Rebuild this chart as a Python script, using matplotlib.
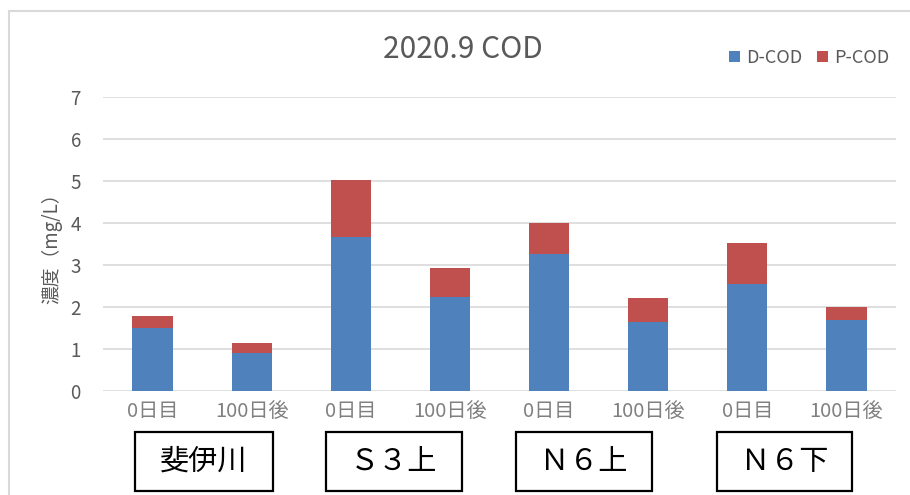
import matplotlib
matplotlib.use("Agg")
import matplotlib.pyplot as plt
from matplotlib.patches import Rectangle
import numpy as np

plt.rcParams['font.family'] = ['Noto Sans CJK JP', 'DejaVu Sans']

categories = ["0日目", "100日後", "0日目", "100日後", "0日目", "100日後", "0日目", "100日後"]
d_cod = [1.51, 0.91, 3.66, 2.25, 3.26, 1.64, 2.55, 1.68]
p_cod = [0.28, 0.23, 1.37, 0.68, 0.75, 0.57, 0.98, 0.33]
site_labels = ["斐伊川", "Ｓ３上", "Ｎ６上", "Ｎ６下"]
title = "2020.9 COD"
ylabel = "濃度（mg/L）"

W, H = 910, 495
fig = plt.figure(figsize=(W / 100, H / 100), dpi=100)
ax = fig.add_axes([103 / W, (H - 391) / H, (896 - 103) / W, (391 - 97) / H])

x = np.arange(len(categories))
blue = "#4F81BD"
red = "#C0504D"
ax.bar(x, d_cod, width=0.405, color=blue, label="D-COD", zorder=3)
ax.bar(x, p_cod, width=0.405, bottom=d_cod, color=red, label="P-COD", zorder=3)

ax.set_xlim(-0.5, len(categories) - 0.5)
ax.set_ylim(0, 7)
ax.set_yticks(range(8))
ax.yaxis.grid(True, color="#D9D9D9", linewidth=1.2, zorder=0)
for s in ax.spines.values():
    s.set_visible(False)
ax.tick_params(axis="both", length=0, colors="#595959")
ax.tick_params(axis="y", pad=16, labelsize=13.5)
ax.tick_params(axis="x", pad=7, labelsize=14.5)
ax.set_xticks(x)
ax.set_xticklabels(categories)
for t in ax.get_xticklabels():
    t.set_color("#808080")
ax.set_ylabel(ylabel, color="#595959", fontsize=13.5, labelpad=6)

fig.text(463 / W, 1 - 50 / H, title, ha="center", va="center", fontsize=21.5,
         color="#595959")

leg = ax.legend(loc="center", bbox_to_anchor=(809 / W, 1 - 58 / H),
                bbox_transform=fig.transFigure, ncol=2, frameon=False,
                fontsize=13, handlelength=0.6, handleheight=0.6,
                handletextpad=0.35, columnspacing=0.8)
for t in leg.get_texts():
    t.set_color("#595959")

# outer chart border
fig.add_artist(Rectangle((9 / W, -0.1), 1.2, 1 - 11 / H + 0.1, transform=fig.transFigure,
                         fill=False, edgecolor="#D9D9D9", linewidth=1.5))

boxes = [(135, 273), (326, 462), (516, 652), (717, 852)]
for (l, r), lab in zip(boxes, site_labels):
    fig.add_artist(Rectangle((l / W, 1 - 491 / H), (r - l) / W, (491 - 432) / H,
                             transform=fig.transFigure, fill=True, facecolor="white",
                             edgecolor="black", linewidth=1.6))
    fig.text((l + r) / 2 / W, 1 - 462 / H, lab, ha="center", va="center",
             fontsize=21, color="black")

fig.savefig("out.png", dpi=100)
